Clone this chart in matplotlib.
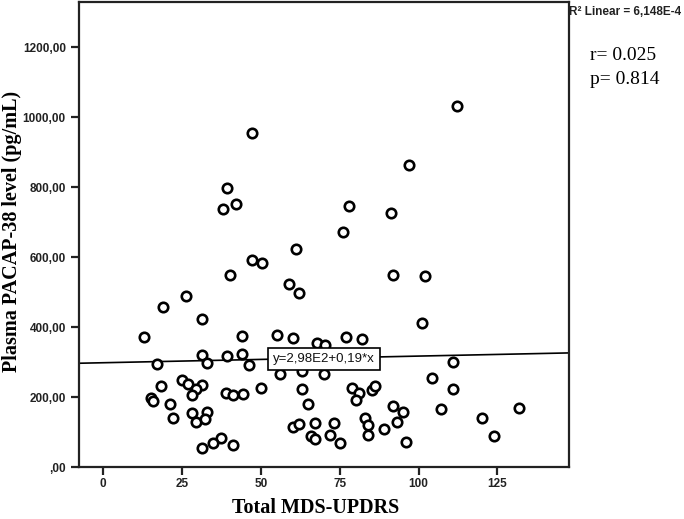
import numpy as np
import matplotlib
matplotlib.use('Agg')
import matplotlib.pyplot as plt

# Datos
mds_updrs = [47.1, 50.3, 61.0, 40.2, 59.0, 62.2, 26.2, 19.0, 31.2, 13.0,
             44.1, 55.0, 60.1, 67.9, 70.3, 77.0, 31.2, 39.1, 44.1, 17.1,
             33.0, 46.2, 56.1, 62.9, 70.0, 24.9, 27.0, 31.2, 29.3, 28.1,
             18.2, 50.0, 38.9, 41.2, 44.2, 62.9, 15.0, 15.9, 21.2, 65.0,
             22.2, 28.1, 33.0, 29.3, 32.2, 60.1, 62.2, 67.2, 73.2, 65.8,
             67.2, 71.9, 75.1, 37.2, 34.9, 31.2, 41.2, 92.0, 102.1, 101.1,
             82.0, 111.0, 104.2, 111.0, 78.8, 81.2, 80.2, 85.2, 86.2, 92.0,
             95.2, 107.1, 132.0, 83.1, 84.1, 89.1, 93.1, 120.1, 84.1, 96.0,
             124.0, 47.1, 39.1, 42.1, 38.1, 78.0, 91.2, 97.1, 76.0, 112.1]
pacap = [591, 582, 622, 549, 522, 496, 489, 456, 422, 371,
         374, 377, 369, 355, 349, 371, 319, 317, 323, 294,
         298, 291, 266, 275, 265, 249, 237, 234, 222, 207,
         231, 226, 212, 205, 209, 222, 196, 189, 179, 179,
         140, 155, 158, 129, 136, 114, 122, 126, 126, 89,
         81, 91, 68, 84, 68, 53, 63, 549, 546, 411,
         367, 301, 253, 224, 227, 212, 191, 220, 232, 174,
         157, 166, 168, 139, 120, 109, 128, 140, 91, 72,
         89, 955, 798, 753, 738, 745, 725, 864, 673, 1032]

# recta de ajuste mostrada en la figura
intercept = 298.0
slope = 0.19

x_ticks = [0, 25, 50, 75, 100, 125]
y_ticks = [0, 200, 400, 600, 800, 1000, 1200]
y_labels = [',00', '200,00', '400,00', '600,00', '800,00', '1000,00', '1200,00']

fig = plt.figure(figsize=(6.84, 5.19), dpi=100)
ax = fig.add_axes([79/684, 1 - 467/519, 490/684, 465/519])

xmin, xmax = -7.7, 147.7
ax.set_xlim(xmin, xmax)
ax.set_ylim(0, 1329)

xs = np.array([xmin, xmax])
ax.plot(xs, intercept + slope * xs, color='black', lw=1.2, zorder=2)

ax.plot(mds_updrs, pacap, 'o', ms=6.8, mfc='white', mec='black', mew=1.9,
        zorder=3, clip_on=False)

ax.text(70, 309, 'y=2,98E2+0,19*x', ha='center', va='center',
        fontsize=9.5, family='Liberation Sans', color='#111111', zorder=4,
        bbox=dict(boxstyle='square,pad=0.4', fc='white', ec='black', lw=1.2))

for s in ax.spines.values():
    s.set_linewidth(1.6)
    s.set_color('#222222')

ax.set_xticks(x_ticks)
ax.set_yticks(y_ticks)
ax.set_yticklabels(y_labels)
ax.tick_params(direction='out', length=6, width=1.6, color='#222222',
               labelsize=8.5, labelcolor='#222222')
ax.tick_params(axis='x', pad=2)
for lab in ax.get_xticklabels() + ax.get_yticklabels():
    lab.set_family('Liberation Sans')
    lab.set_fontweight('bold')

ax.set_xlabel('Total MDS-UPDRS', family='Liberation Serif', fontweight='bold',
              fontsize=14.5)
ax.set_ylabel('Plasma PACAP-38 level (pg/mL)', family='Liberation Serif',
              fontweight='bold', fontsize=14.5)
ax.xaxis.set_label_coords(237/490, -46/465, transform=ax.transAxes)
ax.yaxis.set_label_coords(-67/490, 236/465, transform=ax.transAxes)
ax.xaxis.label.set_va('baseline')
ax.yaxis.label.set_va('center')

fig.text(569/684, 1 - 12/519, 'R² Linear = 6,148E-4', family='Liberation Sans',
         fontsize=8.5, fontweight='bold', va='center', ha='left', color='#222222')
fig.text(590/684, 1 - 55/519, 'r= 0.025', family='Liberation Serif',
         fontsize=14, va='center', ha='left')
fig.text(590/684, 1 - 80/519, 'p= 0.814', family='Liberation Serif',
         fontsize=14, va='center', ha='left')

fig.savefig('out.png', dpi=100)
